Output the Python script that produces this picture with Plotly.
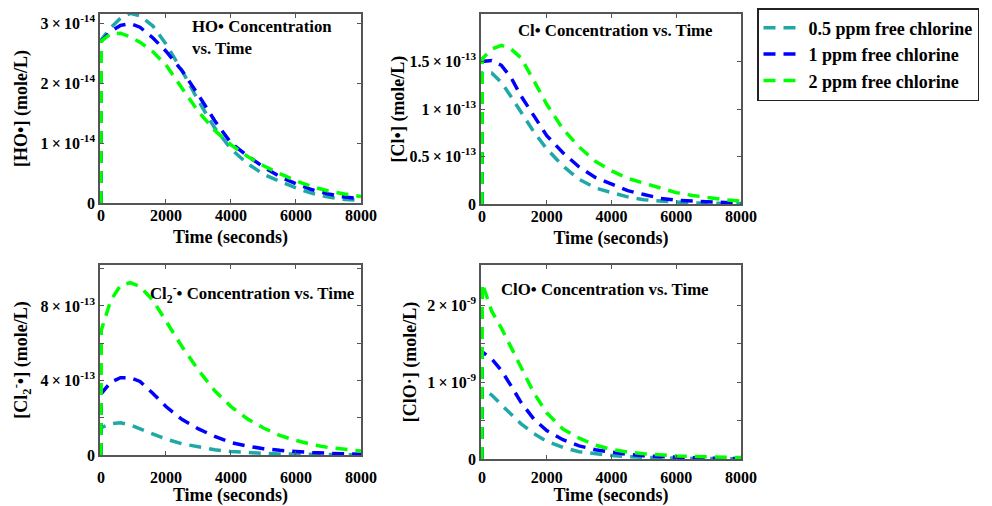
import plotly.graph_objects as go

# ---------------- data ----------------
time_s = [0, 10, 300, 600, 900, 1200, 1600, 2000, 2500, 3000, 3500,
          4000, 4500, 5000, 5500, 6000, 6500, 7000, 7500, 8000]

series_names = ["0.5 ppm free chlorine", "1 ppm free chlorine", "2 ppm free chlorine"]
series_colors = ["#20A8A8", "#0000FF", "#00FF00"]

# [HO•] in units of 1e-14 mole/L
ho_scale = 1e-14
ho_05 = [0, 2.72, 2.92, 3.08, 3.16, 3.12, 2.95, 2.65, 2.2, 1.7, 1.25, 0.9, 0.66, 0.48, 0.36, 0.25, 0.16, 0.1, 0.06, 0.04]
ho_1 = [0, 2.7, 2.86, 2.96, 2.99, 2.93, 2.75, 2.53, 2.2, 1.8, 1.37, 1.0, 0.79, 0.6, 0.44, 0.32, 0.22, 0.15, 0.1, 0.07]
ho_2 = [0, 2.7, 2.82, 2.83, 2.77, 2.68, 2.52, 2.3, 1.91, 1.52, 1.21, 0.97, 0.78, 0.62, 0.49, 0.37, 0.27, 0.2, 0.15, 0.11]

# [Cl•] in units of 1e-13 mole/L
cl_scale = 1e-13
cl_05 = [0, 1.38, 1.38, 1.28, 1.13, 0.97, 0.76, 0.58, 0.4, 0.26, 0.17, 0.12, 0.075, 0.045, 0.03, 0.02, 0.012, 0.008, 0.005, 0.003]
cl_1 = [0, 1.5, 1.51, 1.46, 1.33, 1.14, 0.93, 0.72, 0.54, 0.39, 0.28, 0.21, 0.14, 0.1, 0.06, 0.04, 0.03, 0.02, 0.015, 0.01]
cl_2 = [0, 1.53, 1.63, 1.67, 1.63, 1.54, 1.3, 1.05, 0.79, 0.6, 0.45, 0.35, 0.27, 0.22, 0.17, 0.12, 0.09, 0.065, 0.045, 0.03]

# [Cl2-•] in units of 1e-13 mole/L
cl2_scale = 1e-13
cl2_05 = [0, 1.47, 1.68, 1.73, 1.62, 1.4, 1.1, 0.85, 0.6, 0.42, 0.28, 0.19, 0.13, 0.09, 0.06, 0.04, 0.03, 0.02, 0.015, 0.01]
cl2_1 = [0, 3.3, 3.9, 4.15, 4.15, 3.95, 3.3, 2.6, 1.9, 1.4, 1.0, 0.67, 0.48, 0.34, 0.25, 0.18, 0.13, 0.09, 0.06, 0.04]
cl2_2 = [0, 6.7, 8.3, 9.1, 9.25, 9.05, 8.3, 7.2, 5.8, 4.55, 3.45, 2.6, 1.95, 1.45, 1.05, 0.78, 0.56, 0.4, 0.29, 0.21]

# [ClO•] in units of 1e-9 mole/L
clo_scale = 1e-9
clo_05 = [0, 0.92, 0.83, 0.7, 0.58, 0.46, 0.33, 0.23, 0.15, 0.095, 0.065, 0.045, 0.03, 0.02, 0.014, 0.01, 0.007, 0.005, 0.004, 0.003]
clo_1 = [0, 1.39, 1.3, 1.15, 0.95, 0.74, 0.52, 0.37, 0.25, 0.17, 0.12, 0.085, 0.06, 0.042, 0.03, 0.021, 0.015, 0.011, 0.008, 0.006]
clo_2 = [0, 2.28, 1.92, 1.7, 1.45, 1.2, 0.86, 0.6, 0.39, 0.27, 0.18, 0.125, 0.09, 0.068, 0.052, 0.04, 0.032, 0.026, 0.021, 0.018]

x_ticks = [0, 2000, 4000, 6000, 8000]
x_tick_text = ["0", "2000", "4000", "6000", "8000"]

TS = "\u2009"  # thin space around the multiplication sign
ho_ticks = [0, 1e-14, 2e-14, 3e-14]
ho_tick_text = ["0", f"1{TS}×{TS}10<sup>-14</sup>", f"2{TS}×{TS}10<sup>-14</sup>", f"3{TS}×{TS}10<sup>-14</sup>"]
cl_ticks = [0, 0.5e-13, 1e-13, 1.5e-13, 2e-13]
cl_tick_text = ["0", f"0.5{TS}×{TS}10<sup>-13</sup>", f"1{TS}×{TS}10<sup>-13</sup>",
                f"1.5{TS}×{TS}10<sup>-13</sup>", f"2{TS}×{TS}10<sup>-13</sup>"]
cl2_ticks = [0, 2e-13, 4e-13, 6e-13, 8e-13, 10e-13]
cl2_tick_text = ["0", "", f"4{TS}×{TS}10<sup>-13</sup>", "", f"8{TS}×{TS}10<sup>-13</sup>", ""]
clo_ticks = [0, 0.5e-9, 1e-9, 1.5e-9, 2e-9]
clo_tick_text = ["0", "", f"1{TS}×{TS}10<sup>-9</sup>", "", f"2{TS}×{TS}10<sup>-9</sup>"]

panels = [
    dict(series=[ho_05, ho_1, ho_2], scale=ho_scale, title="HO• Concentration<br>vs. Time",
         ylabel="[HO•] (mole/L)", ticks=ho_ticks, ticktext=ho_tick_text, yrange=[0, 3.15e-14]),
    dict(series=[cl_05, cl_1, cl_2], scale=cl_scale, title="Cl• Concentration vs. Time",
         ylabel="[Cl•] (mole/L)", ticks=cl_ticks, ticktext=cl_tick_text, yrange=[0, 2.0e-13]),
    dict(series=[cl2_05, cl2_1, cl2_2], scale=cl2_scale,
         title="Cl<sub>2</sub><sup>-</sup>• Concentration vs. Time",
         ylabel="[Cl<sub>2</sub><sup>-</sup>•] (mole/L)", ticks=cl2_ticks, ticktext=cl2_tick_text,
         yrange=[0, 1.02e-12]),
    dict(series=[clo_05, clo_1, clo_2], scale=clo_scale, title="ClO• Concentration vs. Time",
         ylabel="[ClO·] (mole/L)", ticks=clo_ticks, ticktext=clo_tick_text, yrange=[0, 2.52e-9]),
]

# ---------------- layout geometry (pixels of the 992x506 view) ----------------
VIEW_W, VIEW_H = 992, 506
PAGE_PAD = 8                      # default page body margin in front of the figure
W, H = VIEW_W - PAGE_PAD, VIEW_H - PAGE_PAD
FONT = "Liberation Serif"


def fx(px):
    return (px - PAGE_PAD) / W


def fy(py):
    return 1 - (py - PAGE_PAD) / H


boxes = [  # (left, right, top, bottom) in view px
    (100, 361, 14, 203),
    (481, 741, 14, 204),
    (100, 361, 265, 455),
    (481, 741, 265, 459),
]
title_pos = [  # (x px, top y px)
    (190, 15),
    (516, 19),
    (148, 280),
    (499, 278),
]
ytitle_standoff = [8, 0, 8, 6]
xlabel_standoff = [-3, -3, 7, 3]
xtitle_standoff = [7, 7, 15, 13]

fig = go.Figure()
layout = {}
axis_color = "#555555"

for i, p in enumerate(panels):
    n = "" if i == 0 else str(i + 1)
    for k, (vals, name, color) in enumerate(zip(p["series"], series_names, series_colors)):
        fig.add_trace(go.Scatter(
            x=time_s, y=[v * p["scale"] for v in vals],
            mode="lines", name=name,
            line=dict(color=color, width=3.5, dash="12px,8px"),
            xaxis="x" + n, yaxis="y" + n,
            showlegend=(i == 0), legendrank=k,
        ))
    l, r, t, b = boxes[i]
    layout["xaxis" + n] = dict(
        domain=[fx(l), fx(r)], anchor="y" + n, range=[-30, 8000], automargin=False,
        tickvals=x_ticks, ticktext=x_tick_text,
        ticks="inside", ticklen=4, tickwidth=1, tickcolor=axis_color,
        showline=True, linecolor=axis_color, linewidth=1.5, mirror="ticks",
        showgrid=False, zeroline=False,
        tickfont=dict(family=FONT, size=16, color="black", weight="bold"),
        ticklabelstandoff=xlabel_standoff[i],
        title=dict(text="Time (seconds)", standoff=xtitle_standoff[i],
                   font=dict(family=FONT, size=18, color="black", weight="bold")),
    )
    layout["yaxis" + n] = dict(
        domain=[fy(b), fy(t)], anchor="x" + n, range=p["yrange"], automargin=False,
        tickvals=p["ticks"], ticktext=p["ticktext"],
        ticks="inside", ticklen=4, tickwidth=1, tickcolor=axis_color,
        showline=True, linecolor=axis_color, linewidth=1.5, mirror="ticks",
        showgrid=False, zeroline=False,
        tickfont=dict(family=FONT, size=16, color="black", weight="bold"),
        title=dict(text=p["ylabel"], standoff=ytitle_standoff[i],
                   font=dict(family=FONT, size=18, color="black", weight="bold")),
    )

annotations = []
for p, (x, y) in zip(panels, title_pos):
    annotations.append(dict(
        text=p["title"], xref="paper", yref="paper", x=fx(x), y=fy(y),
        xanchor="left", yanchor="top", align="left", showarrow=False,
        font=dict(family=FONT, size=16.8, color="black", weight="bold"),
    ))

fig.update_layout(
    **layout,
    annotations=annotations,
    width=W, height=H,
    margin=dict(l=0, r=0, t=0, b=0, autoexpand=False),
    paper_bgcolor="white", plot_bgcolor="white",
    font=dict(family=FONT, size=16, color="black", weight="bold"),
    legend=dict(
        x=fx(757), y=fy(8), xanchor="left", yanchor="top",
        bordercolor="#222222", borderwidth=1.5, bgcolor="white",
        font=dict(family=FONT, size=18, color="black", weight="bold"),
        tracegroupgap=0, itemwidth=40,
    ),
)

fig.write_html("out.html")
